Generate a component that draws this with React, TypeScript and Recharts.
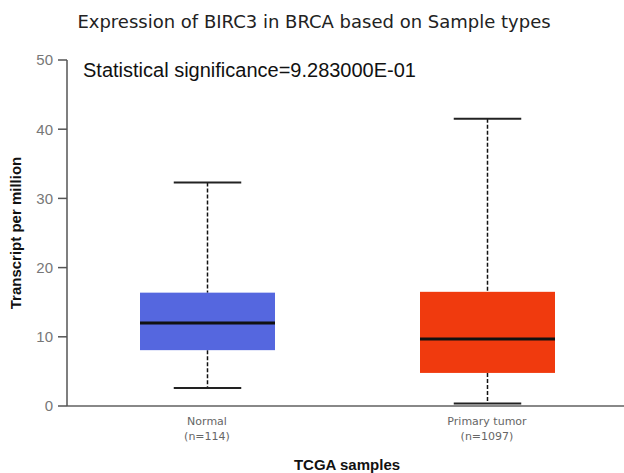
import { ComposedChart, Bar, XAxis, YAxis } from "recharts";

// Box-plot summary per sample group (TPM)
const groups = ["Normal", "Primary tumor"];
const groupCounts = [114, 1097];
const mins = [2.6, 0.35];
const q1s = [8.07, 4.78];
const medians = [11.99, 9.67];
const q3s = [16.38, 16.5];
const maxs = [32.3, 41.5];
const boxColors = ["#5567DF", "#F03A0E"];
const yTicks = [0, 10, 20, 30, 40, 50];

const data = groups.map((g, i) => ({
  group: g,
  n: groupCounts[i],
  range: [mins[i], maxs[i]],
  min: mins[i],
  q1: q1s[i],
  median: medians[i],
  q3: q3s[i],
  max: maxs[i],
  color: boxColors[i],
}));

const ARIAL = "'Liberation Sans', Arial, sans-serif";
const VERDANA = "'DejaVu Sans', Verdana, sans-serif";

// the bar spans min..max, so its own pixel box gives us the scale for the inner marks
function BoxShape(props: any) {
  const { x, y, width, height, payload } = props;
  const k = height / (payload.max - payload.min);
  const toY = (v: number) => y + (payload.max - v) * k;
  const cx = x + width / 2;
  const capHalf = width / 4;
  return (
    <g>
      <line x1={cx} x2={cx} y1={toY(payload.max)} y2={toY(payload.q3)} stroke="#111" strokeWidth={1.5} strokeDasharray="4 2" />
      <line x1={cx} x2={cx} y1={toY(payload.q1)} y2={toY(payload.min)} stroke="#111" strokeWidth={1.5} strokeDasharray="4 2" />
      <line x1={cx - capHalf} x2={cx + capHalf} y1={toY(payload.max)} y2={toY(payload.max)} stroke="#222" strokeWidth={2} />
      <line x1={cx - capHalf} x2={cx + capHalf} y1={toY(payload.min)} y2={toY(payload.min)} stroke="#222" strokeWidth={2} />
      <rect x={x} y={toY(payload.q3)} width={width} height={toY(payload.q1) - toY(payload.q3)} fill={payload.color} />
      <line x1={x} x2={x + width} y1={toY(payload.median)} y2={toY(payload.median)} stroke="#111" strokeWidth={3} />
    </g>
  );
}

function GroupTick(props: any) {
  const { x, y, payload } = props;
  const i = groups.indexOf(payload.value);
  return (
    <g fontFamily={VERDANA} fontSize={11} fill="#666">
      <text x={x} y={y + 18.5} textAnchor="middle">{payload.value}</text>
      <text x={x} y={y + 34} textAnchor="middle">(n={groupCounts[i]})</text>
    </g>
  );
}

function YLabel(props: any) {
  const vb = props.viewBox;
  const cy = vb.y + vb.height / 2;
  return (
    <text
      x={0}
      y={0}
      transform={`translate(21, ${cy}) rotate(-90)`}
      textAnchor="middle"
      fontFamily={ARIAL}
      fontWeight="bold"
      fontSize={15}
      fill="#111"
    >
      Transcript per million
    </text>
  );
}

export default function App() {
  return (
    <div style={{ position: "absolute", left: 0, top: 0, width: 624, height: 473, overflow: "hidden", background: "#fff" }}>
      <div
        style={{
          position: "absolute",
          left: 0,
          width: 628,
          top: 12.8,
          textAlign: "center",
          fontFamily: VERDANA,
          fontSize: 18,
          lineHeight: "18px",
          color: "#222",
          whiteSpace: "nowrap",
        }}
      >
        Expression of BIRC3 in BRCA based on Sample types
      </div>
      <ComposedChart
        width={627}
        height={473}
        data={data}
        margin={{ top: 60, right: 0, bottom: 0, left: 0 }}
      >
        <XAxis
          dataKey="group"
          height={67}
          tickLine={false}
          tickSize={0}
          tickMargin={0}
          axisLine={{ stroke: "#888", strokeWidth: 2 }}
          tick={<GroupTick />}
          label={{
            value: "TCGA samples",
            position: "insideBottom",
            offset: 3,
            style: { fontFamily: ARIAL, fontWeight: "bold", fontSize: 15, fill: "#111" },
          }}
        />
        <YAxis
          width={67}
          domain={[0, 50]}
          ticks={yTicks}
          tickSize={9}
          tickMargin={5}
          axisLine={{ stroke: "#555", strokeWidth: 1.5 }}
          tickLine={{ stroke: "#555", strokeWidth: 1.5 }}
          tick={{ fontFamily: ARIAL, fontSize: 15, fill: "#777" }}
          label={{ content: <YLabel /> }}
        />
        <Bar dataKey="range" barSize={135} shape={<BoxShape />} isAnimationActive={false} />
      </ComposedChart>
      <div
        style={{
          position: "absolute",
          left: 83,
          top: 60,
          fontFamily: ARIAL,
          fontSize: 20,
          lineHeight: "20px",
          color: "#111",
          whiteSpace: "nowrap",
        }}
      >
        Statistical significance=9.283000E-01
      </div>
    </div>
  );
}
